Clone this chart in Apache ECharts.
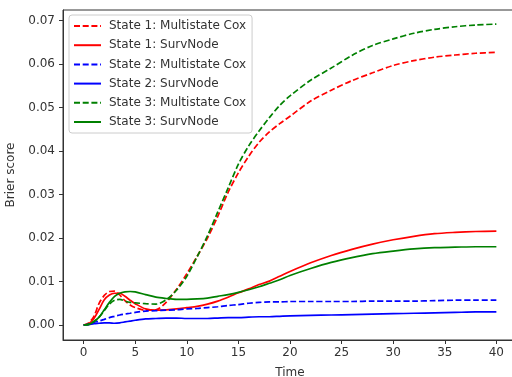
<!DOCTYPE html>
<html>
<head>
<meta charset="utf-8">
<script src="https://cdn.jsdelivr.net/npm/echarts@6/dist/echarts.min.js"></script>
<style>html,body{margin:0;padding:0;background:#fff}#c{width:512px;height:377px}</style>
</head>
<body>
<div id="c"></div>
<script>
var times = [0,0.5,1,1.5,2,2.5,3,3.5,4,4.5,5,6,7,8,9,10,11,12,13,14,15,16,17,18,19,20,22,24,26,28,30,32,34,36,38,40];
var s1Cox = [0,0.0005,0.002,0.0050,0.0068,0.0077,0.0078,0.0069,0.0056,0.0046,0.0040,0.0034,0.0035,0.0052,0.0082,0.0118,0.0158,0.0200,0.0250,0.0305,0.0350,0.0388,0.0420,0.0444,0.0463,0.0480,0.0515,0.0540,0.0562,0.0580,0.0597,0.0608,0.0616,0.0621,0.0625,0.0627];
var s1Node = [0,0.0003,0.0015,0.0036,0.0058,0.0069,0.0073,0.0073,0.0066,0.0057,0.0049,0.0037,0.0034,0.0035,0.0037,0.0040,0.0043,0.0048,0.0055,0.0064,0.0074,0.0083,0.0093,0.0101,0.0112,0.0123,0.0143,0.0160,0.0174,0.0186,0.0196,0.0204,0.0210,0.0213,0.0215,0.0216];
var s2Cox = [0,0.0002,0.0006,0.0009,0.0013,0.0017,0.0020,0.0023,0.0025,0.0027,0.0029,0.0032,0.0033,0.0034,0.0035,0.0037,0.0038,0.0040,0.0042,0.0045,0.0047,0.0050,0.0052,0.0053,0.0053,0.0054,0.0054,0.0054,0.0054,0.0055,0.0055,0.0055,0.0056,0.0057,0.0057,0.0057];
var s2Node = [0,0.0001,0.0003,0.0004,0.0005,0.0005,0.0004,0.0005,0.0007,0.0009,0.0011,0.0014,0.0015,0.0016,0.0016,0.0015,0.0015,0.0015,0.0016,0.0017,0.0017,0.0018,0.0019,0.0019,0.0020,0.0021,0.0022,0.0023,0.0024,0.0025,0.0026,0.0027,0.0028,0.0029,0.0030,0.0030];
var s3Cox = [0,0.0002,0.0008,0.0018,0.0033,0.0048,0.0057,0.0059,0.0055,0.0052,0.0051,0.0049,0.0048,0.0058,0.0080,0.0112,0.0157,0.0205,0.0260,0.0315,0.0370,0.0412,0.0446,0.0477,0.0505,0.0527,0.0563,0.0591,0.0620,0.0643,0.0658,0.0671,0.0680,0.0686,0.0690,0.0692];
var s3Node = [0,0.0001,0.0008,0.0018,0.0035,0.0052,0.0066,0.0073,0.0076,0.0077,0.0076,0.0070,0.0064,0.0061,0.0059,0.0059,0.0060,0.0062,0.0066,0.0070,0.0075,0.0081,0.0088,0.0096,0.0104,0.0114,0.0130,0.0144,0.0155,0.0164,0.0170,0.0175,0.0178,0.0179,0.0180,0.0180];
var seriesNames = ['State 1: Multistate Cox','State 1: SurvNode','State 2: Multistate Cox','State 2: SurvNode','State 3: Multistate Cox','State 3: SurvNode'];
var xTicks = [0,5,10,15,20,25,30,35,40];
var yTicks = [0,0.01,0.02,0.03,0.04,0.05,0.06,0.07];

function pairs(v){ return times.map(function(t,i){ return [t, v[i]]; }); }
var font = 'DejaVu Sans';
var txt = '#333';
function mk(name, vals, color, dashed){
  return {
    name: name, type: 'line', data: pairs(vals), smooth: 0.3, symbol: 'none', showSymbol: false,
    lineStyle: { color: color, width: 1.7, type: dashed ? [6, 2.7] : 'solid' },
    itemStyle: { color: color },
    emphasis: { disabled: true }, animation: false
  };
}
var chart = echarts.init(document.getElementById('c'), null, { renderer: 'canvas' });
chart.setOption({
  animation: false,
  backgroundColor: '#fff',
  grid: { left: 63, top: 10, right: -5, bottom: 37, show: true, borderColor: '#333', borderWidth: 1,
    backgroundColor: 'transparent', containLabel: false, outerBoundsMode: 'none' },
  legend: {
    orient: 'vertical', left: 69, top: 15, padding: [5, 6, 5, 4],
    itemWidth: 27, itemHeight: 12, itemGap: 7.2,
    backgroundColor: 'rgba(255,255,255,0.8)', borderColor: '#ccc', borderWidth: 1, borderRadius: 3,
    itemStyle: { opacity: 0 },
    textStyle: { fontFamily: font, fontSize: 12, color: txt, padding: [0,0,0,3] },
    data: seriesNames
  },
  xAxis: {
    type: 'value', min: -2, max: 42,
    name: 'Time', nameLocation: 'middle', nameGap: 27,
    nameTextStyle: { fontFamily: font, fontSize: 12, color: txt },
    axisLine: { show: true, onZero: false, lineStyle: { color: '#333', width: 1 } },
    axisTick: { show: true, length: 4, inside: false, lineStyle: { color: '#333' }, customValues: xTicks },
    axisLabel: { fontFamily: font, fontSize: 12, color: txt, margin: 7, customValues: xTicks },
    splitLine: { show: false }
  },
  yAxis: {
    type: 'value', min: -0.00345, max: 0.07245,
    name: 'Brier score', nameLocation: 'middle', nameGap: 46, nameRotate: 90,
    nameTextStyle: { fontFamily: font, fontSize: 12, color: txt },
    axisLine: { show: true, onZero: false, lineStyle: { color: '#333', width: 1 } },
    axisTick: { show: true, length: 4, inside: false, lineStyle: { color: '#333' }, customValues: yTicks },
    axisLabel: { fontFamily: font, fontSize: 12, color: txt, margin: 8, customValues: yTicks,
      formatter: function(v){ return v.toFixed(2); } },
    splitLine: { show: false }
  },
  series: [
    mk(seriesNames[0], s1Cox, '#ff0000', true),
    mk(seriesNames[1], s1Node, '#ff0000', false),
    mk(seriesNames[2], s2Cox, '#0000ff', true),
    mk(seriesNames[3], s2Node, '#0000ff', false),
    mk(seriesNames[4], s3Cox, '#008000', true),
    mk(seriesNames[5], s3Node, '#008000', false)
  ]
});
</script>
</body>
</html>
